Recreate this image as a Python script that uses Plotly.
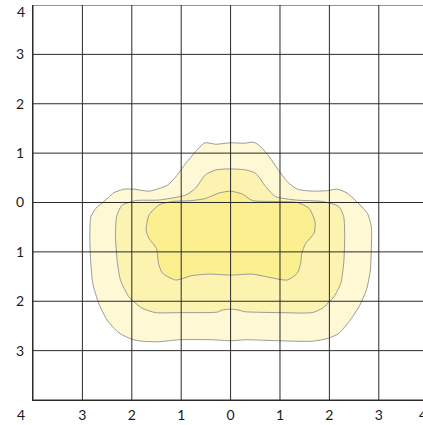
import plotly.graph_objects as go

# Contour boundaries (data units): outer, middle, inner level
outer_x = [-0.52, -0.30, 0.00, 0.27, 0.47, 0.61, 0.78, 0.96, 1.15, 1.35, 1.65, 1.96, 2.16, 2.36, 2.60, 2.77,
           2.85, 2.85, 2.83, 2.75, 2.60, 2.40, 2.19, 1.98, 1.65, 0.98, 0.30, 0.00, -0.37, -1.05, -1.45, -1.79,
           -2.00, -2.26, -2.50, -2.67, -2.79, -2.83, -2.85, -2.83, -2.73, -2.53, -2.36, -2.16, -1.96, -1.65,
           -1.28, -1.11, -0.91, -0.71]
outer_y = [1.21, 1.18, 1.21, 1.20, 1.22, 1.13, 0.93, 0.67, 0.42, 0.27, 0.23, 0.24, 0.27, 0.19, -0.03, -0.22,
           -0.49, -0.89, -1.37, -1.77, -2.11, -2.41, -2.65, -2.75, -2.81, -2.80, -2.78, -2.80, -2.78, -2.78,
           -2.82, -2.81, -2.77, -2.64, -2.38, -2.04, -1.64, -1.23, -0.69, -0.29, -0.12, 0.05, 0.20, 0.27, 0.27,
           0.23, 0.35, 0.52, 0.79, 1.03]

middle_x = [-2.19, -1.92, -1.45, -0.91, -0.71, -0.51, -0.30, 0.00, 0.30, 0.51, 0.71, 0.91, 1.32, 1.86, 2.19,
            2.29, 2.31, 2.29, 2.23, 2.09, 1.86, 1.65, 0.98, 0.44, 0.27, 0.17, 0.00, -0.17, -0.27, -1.05, -1.52,
            -1.79, -2.06, -2.23, -2.29, -2.33, -2.31, -2.23]
middle_y = [-0.05, 0.04, 0.05, 0.15, 0.29, 0.56, 0.66, 0.68, 0.66, 0.59, 0.32, 0.12, 0.05, 0.02, -0.08,
            -0.29, -0.69, -1.23, -1.64, -1.91, -2.14, -2.23, -2.23, -2.22, -2.21, -2.18, -2.16, -2.18, -2.22,
            -2.23, -2.23, -2.14, -1.91, -1.57, -1.23, -0.69, -0.29, -0.10]

inner_x = [0.00, 0.24, 0.44, 0.91, 1.35, 1.59, 1.71, 1.69, 1.52, 1.44, 1.42, 1.35, 1.15, 0.71, 0.44, 0.00,
           -0.44, -0.78, -1.11, -1.38, -1.46, -1.50, -1.65, -1.71, -1.65, -1.45, -1.18, -0.78, -0.51, -0.24]
inner_y = [0.23, 0.17, 0.04, 0.02, 0.00, -0.12, -0.39, -0.62, -0.83, -1.03, -1.23, -1.43, -1.57, -1.50,
           -1.45, -1.47, -1.45, -1.48, -1.57, -1.43, -1.23, -0.93, -0.73, -0.56, -0.25, -0.05, 0.02, 0.04,
           0.08, 0.19]

tick_vals = [-4, -3, -2, -1, 0, 1, 2, 3, 4]
tick_text = ["4", "3", "2", "1", "0", "1", "2", "3", "4"]

fill_colors = ["#fef9d4", "#fcf3b1", "#fbef90"]
line_color = "#9a9a94"
font = dict(family="Lato, 'Open Sans', sans-serif", size=14, color="#1a1a1a")

fig = go.Figure()
for xs, ys, fc in [(outer_x, outer_y, fill_colors[0]),
                   (middle_x, middle_y, fill_colors[1]),
                   (inner_x, inner_y, fill_colors[2])]:
    fig.add_trace(go.Scatter(
        x=xs + [xs[0]], y=ys + [ys[0]], mode="lines", fill="toself",
        fillcolor=fc, line=dict(color=line_color, width=1, shape="spline", smoothing=0.6),
        hoverinfo="skip", showlegend=False))

# grid drawn above the filled contours
shapes = []
for v in tick_vals:
    shapes.append(dict(type="line", xref="x", yref="paper", x0=v, x1=v, y0=0, y1=1,
                       line=dict(color="#2a2a2a", width=1), layer="above"))
    shapes.append(dict(type="line", xref="paper", yref="y", x0=0, x1=1, y0=v, y1=v,
                       line=dict(color="#2a2a2a", width=1), layer="above"))

fig.update_layout(
    width=423, height=425,
    margin=dict(l=33, r=0, t=5, b=25, autoexpand=False),
    paper_bgcolor="white", plot_bgcolor="white",
    font=font,
    shapes=shapes,
    xaxis=dict(range=[-4, 3.895], tickvals=tick_vals[1:8], ticktext=tick_text[1:8],
               showgrid=False, zeroline=False, showline=True, linecolor="#2a2a2a",
               ticks="", tickfont=font, fixedrange=True, automargin=False,
               ticklabelstandoff=2),
    yaxis=dict(range=[-4, 4], tickvals=tick_vals[1:8], ticktext=tick_text[1:8],
               showgrid=False, zeroline=False, showline=True, linecolor="#2a2a2a",
               ticks="", tickfont=font, fixedrange=True, automargin=False,
               ticklabelstandoff=5),
    annotations=[
        dict(x=0, y=0, xref="paper", yref="paper", text=tick_text[0], showarrow=False,
             xanchor="center", yanchor="middle", xshift=-12, yshift=-14, font=font),
        dict(x=1, y=0, xref="paper", yref="paper", text=tick_text[-1], showarrow=False,
             xanchor="left", yanchor="middle", xshift=-6, yshift=-14, font=font),
        dict(x=0, y=1, xref="paper", yref="paper", text=tick_text[-1], showarrow=False,
             xanchor="center", yanchor="middle", xshift=-12, yshift=-6, font=font),
    ],
)

fig.write_html("out.html", config={"displayModeBar": False},
               post_script="document.body.style.margin='0';")
